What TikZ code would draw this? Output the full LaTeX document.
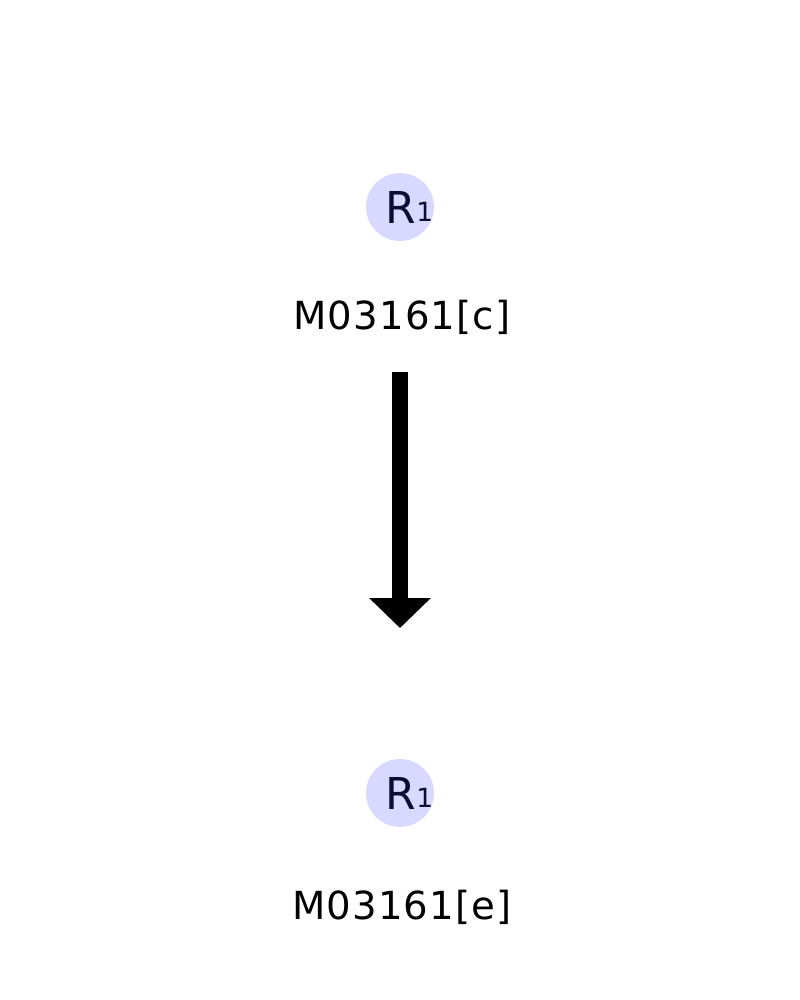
\documentclass[tikz,border=0pt]{standalone}
\usepackage{fontspec}
\setmainfont{DejaVu Sans}
\usepackage{tikz}
\usetikzlibrary{arrows.meta,positioning}
\definecolor{metfill}{RGB}{217,217,255}
\definecolor{metink}{RGB}{12,12,52}

\begin{document}
\begin{tikzpicture}[
  x=0.02cm, y=-0.02cm,
  met/.style={circle, fill=metfill, draw=none, inner sep=0pt, minimum size=1.36cm, text=metink, font=\fontsize{25}{25}\selectfont},
  lab/.style={anchor=base, inner sep=0pt, font=\fontsize{22}{22}\selectfont\addfontfeatures{LetterSpace=3}},
  flux/.style={line width=0.32cm, -{Triangle[width=1.2cm,length=0.6cm]}}
]
  \useasboundingbox (0,0) rectangle (800,1000);
  \node[met] (r1) at (400,207) {\makebox[0pt]{\hspace*{0.38cm}R\raisebox{0.04cm}{\fontsize{15}{15}\selectfont 1}}};
  \node[lab] (m1) at (402,329) {M03161[c]};
  \node[met] (r2) at (400,793) {\makebox[0pt]{\hspace*{0.38cm}R\raisebox{0.04cm}{\fontsize{15}{15}\selectfont 1}}};
  \node[lab] (m2) at (402,919) {M03161[e]};
  \coordinate (fluxin) at (400,372);
  \coordinate (fluxout) at (400,628);
  \draw[flux] (fluxin) -- (fluxout);
\end{tikzpicture}
\end{document}
